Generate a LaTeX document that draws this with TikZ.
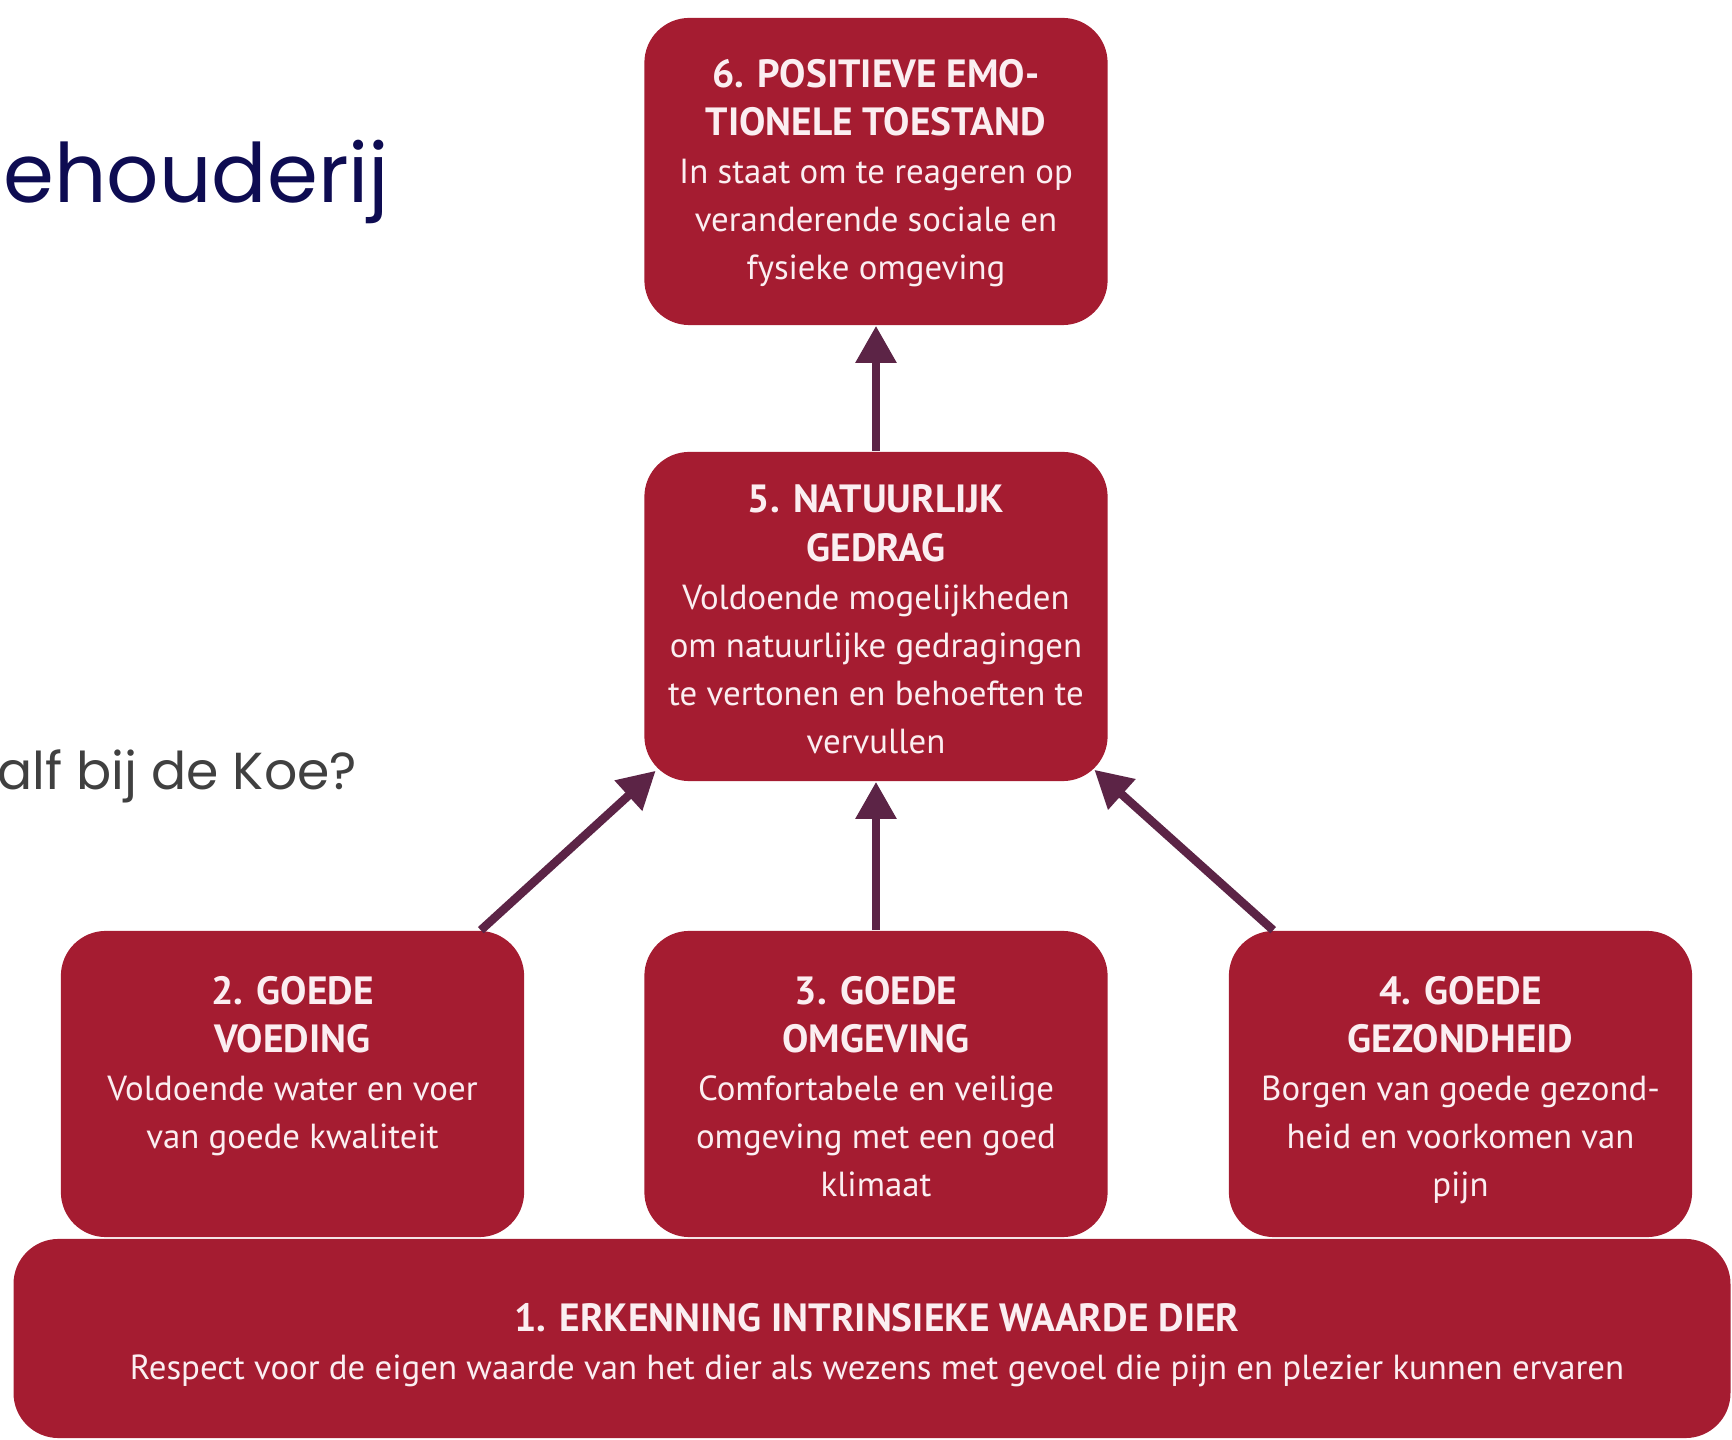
\documentclass[tikz,border=0pt]{standalone}
\usepackage{fontspec}
\setmainfont{PT Sans}
\newfontfamily\gothfont{Poppins}
\usetikzlibrary{arrows.meta,positioning}

\definecolor{boxred}{RGB}{165,28,49}
\definecolor{arrowpurple}{RGB}{92,36,70}
\definecolor{boxwhite}{RGB}{251,238,241}
\definecolor{titlenavy}{RGB}{14,12,82}
\definecolor{subgray}{RGB}{64,64,64}

\newcommand{\hd}[1]{{\bfseries\fontsize{11.2}{13.7}\selectfont #1}}

\begin{document}
\begin{tikzpicture}[x=0.01cm,y=-0.01cm]
\tikzstyle{every node}+=[inner sep=0pt]
\tikzstyle{box}=[fill=boxred, rounded corners=0.45cm, minimum width=4.63cm, minimum height=3.06cm]
\tikzstyle{boxtxt}=[text=boxwhite, align=center, font=\fontsize{9.9}{13.7}\selectfont]
\tikzstyle{arr}=[draw=arrowpurple, line width=0.085cm, -{Triangle[width=0.39cm,length=0.37cm]}]
\useasboundingbox (0,0) rectangle (1732,1440);

\node [anchor=base west, text=titlenavy, font=\gothfont\fontsize{23.3}{28}\selectfont] (titel) at (3,203) {ehouderij};
\node [anchor=base west, text=subgray, font=\gothfont\fontsize{14.8}{18}\selectfont] (vraag) at (-3,790) {alf bij de Koe?};

\node [box, minimum height=3.07cm] (emotie) at (876,171.5) {};
\node [box, minimum height=3.29cm] (gedrag) at (876,616.5) {};
\node [box] (voeding) at (292.5,1084) {};
\node [box] (omgeving) at (876,1084) {};
\node [box] (gezondheid) at (1460.5,1084) {};
\node [box, minimum width=17.16cm, minimum height=1.99cm] (erkenning) at (872,1338.5) {};

\node [boxtxt, below=0.41cm of emotie.north] (emotietxt) {\hd{6. POSITIEVE EMO-}\\\hd{TIONELE TOESTAND}\\In staat om te reageren op\\veranderende sociale en\\fysieke omgeving};
\node [boxtxt, below=0.33cm of gedrag.north] (gedragtxt) {\hd{5. NATUURLIJK}\\\hd{GEDRAG}\\Voldoende mogelijkheden\\om natuurlijke gedragingen\\te vertonen en behoeften te\\vervullen};
\node [boxtxt, below=0.45cm of voeding.north] (voedingtxt) {\hd{2. GOEDE}\\\hd{VOEDING}\\Voldoende water en voer\\van goede kwaliteit};
\node [boxtxt, below=0.45cm of omgeving.north] (omgevingtxt) {\hd{3. GOEDE}\\\hd{OMGEVING}\\Comfortabele en veilige\\omgeving met een goed\\klimaat};
\node [boxtxt, below=0.45cm of gezondheid.north] (gezondheidtxt) {\hd{4. GOEDE}\\\hd{GEZONDHEID}\\Borgen van goede gezond-\\heid en voorkomen van\\pijn};
\node [boxtxt, below=0.64cm of erkenning.north, xshift=0.05cm] (erkenningtxt) {\hd{1. ERKENNING INTRINSIEKE WAARDE DIER}\\Respect voor de eigen waarde van het dier als wezens met gevoel die pijn en plezier kunnen ervaren};

\draw [arr] (gedrag.north) -- (emotie.south);
\draw [arr] (omgeving.north) -- (gedrag.south);
\draw [arr] ([xshift=-0.44cm]voeding.north east) -- ([xshift=0.12cm,yshift=0.11cm]gedrag.south west);
\draw [arr] ([xshift=0.45cm]gezondheid.north west) -- ([xshift=-0.14cm,yshift=0.12cm]gedrag.south east);
\end{tikzpicture}
\end{document}
